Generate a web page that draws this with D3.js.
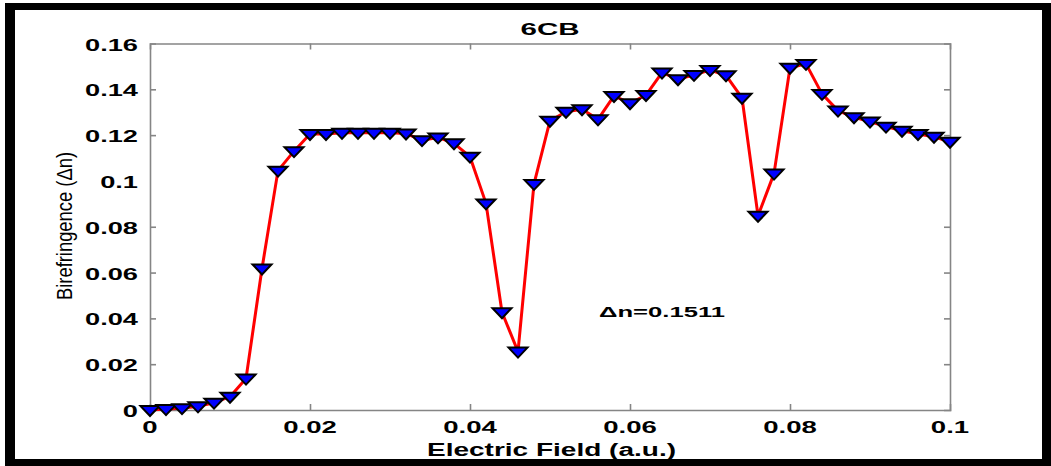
<!DOCTYPE html>
<html>
<head>
<meta charset="utf-8">
<script src="https://cdn.jsdelivr.net/npm/d3@7/dist/d3.min.js"></script>
<style>
  html, body { margin: 0; padding: 0; background: #fff; }
  svg { display: block; }
  text { font-family: "Liberation Sans", Arial, sans-serif; fill: #000; }
</style>
</head>
<body>
<script>
// Electric field (a.u.) applied to the 6CB cell
const field = [
  0.000, 0.002, 0.004, 0.006, 0.008, 0.010, 0.012, 0.014, 0.016, 0.018,
  0.020, 0.022, 0.024, 0.026, 0.028, 0.030, 0.032, 0.034, 0.036, 0.038,
  0.040, 0.042, 0.044, 0.046, 0.048, 0.050, 0.052, 0.054, 0.056, 0.058,
  0.060, 0.062, 0.064, 0.066, 0.068, 0.070, 0.072, 0.074, 0.076, 0.078,
  0.080, 0.082, 0.084, 0.086, 0.088, 0.090, 0.092, 0.094, 0.096, 0.098,
  0.100
];

// Measured birefringence (Δn) at each field step
const birefringence = [
  0.0000, 0.0004, 0.0008, 0.0016, 0.0032, 0.0058, 0.0137, 0.0618, 0.1045, 0.1130,
  0.1205, 0.1205, 0.1210, 0.1210, 0.1210, 0.1210, 0.1207, 0.1178, 0.1190, 0.1164,
  0.1106, 0.0902, 0.0427, 0.0255, 0.0987, 0.1263, 0.1302, 0.1313, 0.1269, 0.1371,
  0.1339, 0.1375, 0.1473, 0.1444, 0.1463, 0.1484, 0.1461, 0.1363, 0.0848, 0.1032,
  0.1494, 0.1511, 0.1380, 0.1307, 0.1278, 0.1259, 0.1237, 0.1219, 0.1205, 0.1193,
  0.1171
];

const xTicks = [0, 0.02, 0.04, 0.06, 0.08, 0.1];
const xTickLabels = ["0", "0.02", "0.04", "0.06", "0.08", "0.1"];
const yTicks = [0, 0.02, 0.04, 0.06, 0.08, 0.1, 0.12, 0.14, 0.16];
const yTickLabels = ["0", "0.02", "0.04", "0.06", "0.08", "0.1", "0.12", "0.14", "0.16"];

const chartTitle = "6CB";
const xTitle = "Electric Field (a.u.)";
const yTitle = "Birefringence (\u0394n)";
const note = "\u0394n=0.1511";

const W = 1051, H = 466;
const plot = { left: 150, right: 950, top: 43.5, bottom: 410 };

const svg = d3.select("body").append("svg")
  .attr("width", W).attr("height", H);

svg.append("rect").attr("width", W).attr("height", H).attr("fill", "#fff");

// Heavy black frame around the figure
const frame = svg.append("g").attr("fill", "#000");
frame.append("rect").attr("x", 5).attr("y", 3).attr("width", 10).attr("height", 463);
frame.append("rect").attr("x", 5).attr("y", 3).attr("width", 1046).attr("height", 7);
frame.append("rect").attr("x", 1042).attr("y", 3).attr("width", 9).attr("height", 463);
frame.append("rect").attr("x", 5).attr("y", 459).attr("width", 1046).attr("height", 7);

const x = d3.scaleLinear().domain([0, 0.1]).range([plot.left, plot.right]);
const y = d3.scaleLinear().domain([0, 0.16]).range([plot.bottom, plot.top]);

// Widen glyphs horizontally by a factor, keeping the anchor point
function stretch(sel, factor) {
  sel.each(function () {
    const w = this.getComputedTextLength();
    d3.select(this).attr("textLength", w * factor).attr("lengthAdjust", "spacingAndGlyphs");
  });
}

const axisColor = "#858585";
const tickLen = 6;

// Axes with inward ticks on all four sides
const axes = svg.append("g");
axes.append("g").attr("transform", `translate(0,${plot.bottom})`)
  .call(d3.axisBottom(x).tickValues(xTicks).tickSize(-tickLen).tickFormat(""));
axes.append("g").attr("transform", `translate(0,${plot.top})`)
  .call(d3.axisTop(x).tickValues(xTicks).tickSize(-tickLen).tickFormat(""));
axes.append("g").attr("transform", `translate(${plot.left},0)`)
  .call(d3.axisLeft(y).tickValues(yTicks).tickSize(-tickLen).tickFormat(""));
axes.append("g").attr("transform", `translate(${plot.right},0)`)
  .call(d3.axisRight(y).tickValues(yTicks).tickSize(-tickLen).tickFormat(""));

axes.selectAll(".domain").attr("stroke", axisColor).attr("stroke-width", 1.6);
axes.selectAll(".tick line").attr("stroke", axisColor).attr("stroke-width", 1.6);
// Hide the end ticks that sit on the box corners
axes.selectAll(".tick").filter(function (d) {
  return d === 0 || d === 0.1 || d === 0.16;
}).select("line").attr("stroke-opacity", 0);

// Tick labels
const xLab = svg.append("g").selectAll("text").data(xTicks).join("text")
  .attr("x", d => x(d)).attr("y", 433)
  .attr("text-anchor", "middle")
  .attr("font-size", 16).attr("font-weight", "bold")
  .text((d, i) => xTickLabels[i]);
stretch(xLab, 1.72);

const yLab = svg.append("g").selectAll("text").data(yTicks).join("text")
  .attr("x", 138).attr("y", d => y(d) + 7)
  .attr("text-anchor", "end")
  .attr("font-size", 16).attr("font-weight", "bold")
  .text((d, i) => yTickLabels[i]);
stretch(yLab, 1.70);

// Title and axis titles
svg.append("text").attr("x", 550).attr("y", 35)
  .attr("text-anchor", "middle").attr("font-size", 16).attr("font-weight", "bold")
  .attr("textLength", 59).attr("lengthAdjust", "spacingAndGlyphs")
  .text(chartTitle);

svg.append("text").attr("x", 551.5).attr("y", 456)
  .attr("text-anchor", "middle").attr("font-size", 18).attr("font-weight", "bold")
  .attr("textLength", 249).attr("lengthAdjust", "spacingAndGlyphs")
  .text(xTitle);

svg.append("text")
  .attr("transform", "translate(72,226) rotate(-90)")
  .attr("text-anchor", "middle").attr("font-size", 22)
  .attr("textLength", 148).attr("lengthAdjust", "spacingAndGlyphs")
  .text(yTitle);

// Annotation of the peak birefringence
svg.append("text").attr("x", 599).attr("y", 317)
  .attr("font-size", 14).attr("font-weight", "bold")
  .attr("textLength", 126).attr("lengthAdjust", "spacingAndGlyphs")
  .text(note);

// Series
const points = field.map((f, i) => ({ f, n: birefringence[i] }));

const line = d3.line().x(d => x(d.f)).y(d => y(d.n));
svg.append("path").datum(points)
  .attr("d", line)
  .attr("fill", "none")
  .attr("stroke", "#ff0000")
  .attr("stroke-width", 3)
  .attr("stroke-linejoin", "round");

// Downward-pointing triangle markers
const tw = 19, th = 10;
const tri = `M${-tw / 2},${-th / 2}L${tw / 2},${-th / 2}L0,${th / 2}Z`;
svg.append("g").selectAll("path").data(points).join("path")
  .attr("transform", d => `translate(${x(d.f)},${y(d.n) + 1})`)
  .attr("d", tri)
  .attr("fill", "#0000ff")
  .attr("stroke", "#000")
  .attr("stroke-width", 2)
  .attr("stroke-linejoin", "miter");
</script>
</body>
</html>
